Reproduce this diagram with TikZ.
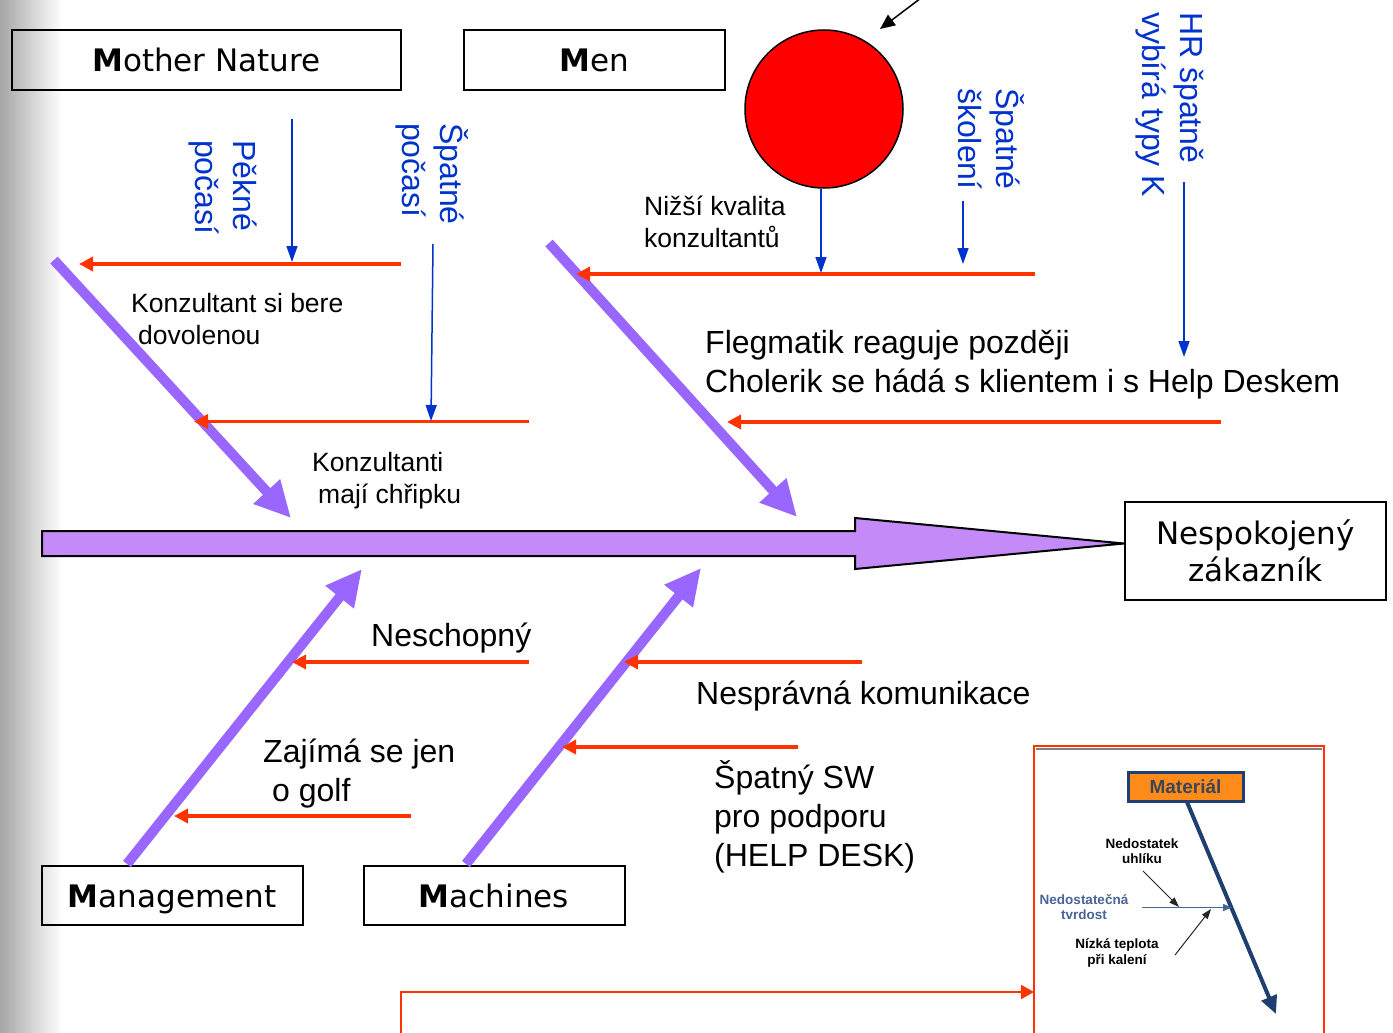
\documentclass[tikz,border=0pt]{standalone}
\usepackage{fontspec}
\setmainfont{Liberation Sans}
\newfontfamily\boxfont{DejaVu Sans}
\usetikzlibrary{arrows.meta}
\definecolor{bonepurple}{RGB}{153,102,255}
\definecolor{spinefill}{RGB}{196,138,248}
\definecolor{causered}{RGB}{255,51,0}
\definecolor{subblue}{RGB}{0,51,204}
\definecolor{navy}{RGB}{31,63,112}
\definecolor{matorange}{RGB}{255,140,26}
\definecolor{tvrdblue}{RGB}{74,100,150}
\definecolor{mattext}{RGB}{58,70,88}
\begin{document}
\begin{tikzpicture}[x=1pt,y=-1pt,
  catbox/.style={draw=black, line width=2pt, inner sep=0pt, font=\boxfont\fontsize{31}{37}\selectfont},
  onelinebox/.style={catbox, text height=27pt, text depth=3pt},
  bone/.style={draw=bonepurple, line width=10pt, -{Triangle[length=36pt,width=34pt]}},
  cause/.style={draw=causered, line width=3.5pt, -{Triangle[length=14pt,width=14pt]}},
  subarrow/.style={draw=subblue, line width=1.5pt, -{Triangle[length=16pt,width=11pt]}},
  smalllbl/.style={inner sep=0pt, anchor=north west, align=left, font=\fontsize{26.5}{32}\selectfont},
  biglbl/.style={inner sep=0pt, anchor=north west, align=left, font=\fontsize{32}{39}\selectfont},
  vertlbl/.style={inner sep=0pt, anchor=north west, align=left, rotate=-90, text=subblue, font=\fontsize{32}{38}\selectfont},
  insetlbl/.style={inner sep=0pt, align=center, font=\bfseries\fontsize{13.5}{15.5}\selectfont},
]
\useasboundingbox (0,0) rectangle (1393,1033);
\fill[white] (0,0) rectangle (1393,1033);
\shade[left color=black!35, right color=white] (0,0) rectangle (62,1033);

% category boxes
\node[onelinebox, minimum width=389pt, minimum height=60pt] (mother) at (206.5,60) {\textbf{M}other Nature};
\node[onelinebox, minimum width=261pt, minimum height=60pt] (men) at (594.5,60) {\textbf{M}en};
\node[onelinebox, minimum width=261pt, minimum height=59pt] (mgmt) at (172,895) {\textbf{M}anagement};
\node[onelinebox, minimum width=261pt, minimum height=59pt] (mach) at (494,895) {\textbf{M}achines};
\node[catbox, minimum width=261pt, minimum height=98pt, align=center] (effect) at (1255.5,550.5) {Nespokojený\\zákazník};

% red circle
\node[circle, draw=black, line width=1.5pt, fill=red, minimum size=158pt, inner sep=0pt] (ball) at (824,109) {};
\coordinate (ptr) at (921,-2);
\coordinate (ptrtip) at (880,29);
\draw[black, line width=1.5pt, -{Triangle[length=15pt,width=13pt]}] (ptr) -- (ptrtip);

% spine
\draw[fill=spinefill, draw=black, line width=2pt] (42,531) -- (855,531) -- (855,518) -- (1124,543.5) -- (855,569) -- (855,556) -- (42,556) -- cycle;
\coordinate (spinetip) at (1124,543.5);

% bones
\coordinate (b1s) at (54,260); \coordinate (b1e) at (291,518);
\coordinate (b2s) at (549,243); \coordinate (b2e) at (797,517);
\coordinate (b3s) at (127,864); \coordinate (b3e) at (362,569);
\coordinate (b4s) at (466,864); \coordinate (b4e) at (701,568);
\draw[bone] (b1s) -- (b1e);
\draw[bone] (b2s) -- (b2e);
\draw[bone] (b3s) -- (b3e);
\draw[bone] (b4s) -- (b4e);

% cause arrows
\coordinate (c1a) at (401,264); \coordinate (c1b) at (79,264);
\coordinate (c2a) at (529,421.5); \coordinate (c2b) at (194,421.5);
\coordinate (c3a) at (1035,274); \coordinate (c3b) at (576,274);
\coordinate (c4a) at (1221,422); \coordinate (c4b) at (727,422);
\coordinate (c5a) at (529,662); \coordinate (c5b) at (292,662);
\coordinate (c6a) at (411,816); \coordinate (c6b) at (174,816);
\coordinate (c7a) at (862,662); \coordinate (c7b) at (624,662);
\coordinate (c8a) at (798,747); \coordinate (c8b) at (562,747);
\foreach \c in {1,...,8} {\draw[cause] (c\c a) -- (c\c b);}

% blue sub-cause arrows
\coordinate (s1a) at (292,119); \coordinate (s1b) at (292,262);
\coordinate (s2a) at (433,244); \coordinate (s2b) at (431,421);
\coordinate (s3b) at (821,273);
\coordinate (s4a) at (963,201); \coordinate (s4b) at (963,264);
\coordinate (s5a) at (1184,182); \coordinate (s5b) at (1184,357);
\draw[subarrow] (s1a) -- (s1b);
\draw[subarrow] (s2a) -- (s2b);
\draw[subarrow] (ball.south -| s3b) -- (s3b);
\draw[subarrow] (s4a) -- (s4b);
\draw[subarrow] (s5a) -- (s5b);

% vertical labels
\node[vertlbl] (pekne) at (257,140) {Pěkné\\počasí};
\node[vertlbl] (spatne1) at (469,123) {Špatné\\počasí};
\node[vertlbl] (skoleni) at (1025,88) {Špatné\\školení};
\node[vertlbl] (hr) at (1204,12) {HR špatně\\vybírá typy K};

% horizontal labels
\node[smalllbl] (dovol) at (131,293) {Konzultant si bere\\\hspace*{7pt}dovolenou};
\node[smalllbl] (chripka) at (312,452) {Konzultanti\\\hspace*{6pt}mají chřipku};
\node[smalllbl] (nizsi) at (644,196) {Nižší kvalita\\konzultantů};
\node[biglbl] (flegma) at (705,330) {Flegmatik reaguje později\\Cholerik se hádá s klientem i s Help Deskem};
\node[biglbl] (neschop) at (371,623) {Neschopný};
\node[biglbl] (golf) at (263,739) {Zajímá se jen\\\hspace*{9pt}o golf};
\node[biglbl] (komun) at (696,681) {Nesprávná komunikace};
\node[biglbl] (sw) at (714,760) {Špatný SW\\pro podporu\\(HELP DESK)};

% inset picture
\fill[white] (1034,746) rectangle (1324,1040);
\draw[gray, line width=2pt] (1036,749) -- (1322,749);
\draw[causered, line width=2pt] (1034,1040) -- (1034,746) -- (1324,746) -- (1324,1040);
\coordinate (feed0) at (401,1035);
\coordinate (feed1) at (401,992);
\coordinate (feed2) at (1034,992);
\draw[causered, line width=2pt, -{Triangle[length=13pt,width=14pt]}] (feed0) -- (feed1) -- (feed2);

\node[draw=navy, line width=3pt, fill=matorange, minimum width=115pt, minimum height=29pt, inner sep=0pt,
      text=mattext, font=\bfseries\fontsize{19}{21}\selectfont] (mat) at (1185.5,787) {Materiál};
\coordinate (matend) at (1276,1014);
\draw[navy, line width=4pt, -{Triangle[length=18pt,width=16pt]}] (1187,802) -- (matend);
\coordinate (tv1) at (1142,907.5); \coordinate (tv2) at (1232,907.5);
\draw[navy!80, line width=1.2pt, -{Triangle[length=9pt,width=7pt]}] (tv1) -- (tv2);
\coordinate (u1) at (1143,871); \coordinate (u2) at (1179,907);
\draw[black!85, line width=1pt, -{Triangle[length=10pt,width=7pt]}] (u1) -- (u2);
\coordinate (k1) at (1175,955); \coordinate (k2) at (1211,909);
\draw[black!85, line width=1pt, -{Triangle[length=10pt,width=7pt]}] (k1) -- (k2);
\node[insetlbl] (uhlik) at (1142,851) {Nedostatek\\uhlíku};
\node[insetlbl, text=tvrdblue] (tvrd) at (1084,907) {Nedostatečná\\tvrdost};
\node[insetlbl] (tepl) at (1117,953) {Nízká teplota\\při kalení};
\end{tikzpicture}
\end{document}
